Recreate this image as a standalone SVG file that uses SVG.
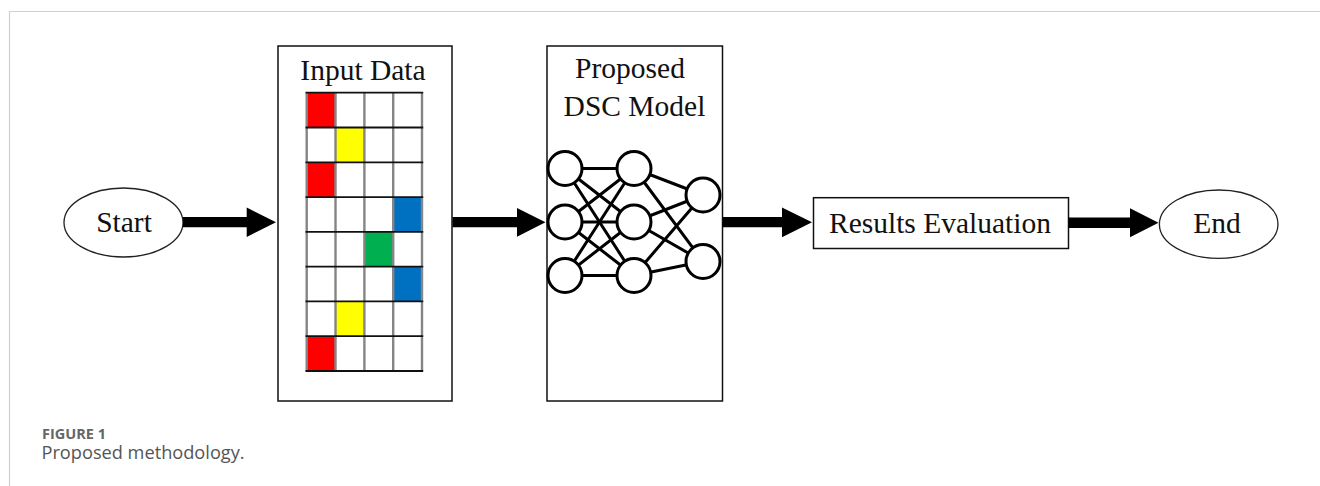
<svg xmlns="http://www.w3.org/2000/svg" width="1320" height="486" viewBox="0 0 1320 486">
<style>
.lbl{font-family:"Liberation Serif","Times New Roman",serif;font-size:29.5px;fill:#111;text-anchor:middle}
.box{fill:#fff;stroke:#111;stroke-width:1.5}
.ell{fill:#fff;stroke:#222;stroke-width:1.3}
.arrow{fill:#000}
.vg{stroke:#858585;stroke-width:2.4}
.hg{stroke:#111;stroke-width:1.8}
.nn{stroke:#000;stroke-width:3;fill:none}
.neuron{fill:#fff;stroke:#000;stroke-width:3}
.cap{font-family:"Open Sans","Noto Sans",sans-serif}
</style>
<rect x="0" y="0" width="1320" height="486" fill="#fff"/>
<path d="M9.5 486 V11.5 H1320" fill="none" stroke="#d0d0d0" stroke-width="1.2"/>

<g id="start">
<ellipse class="ell" cx="123.5" cy="222.5" rx="59.5" ry="34.5"/>
<text class="lbl" x="124" y="232">Start</text>
</g>

<g id="input-data">
<rect class="box" x="278" y="46" width="174" height="355"/>
<text class="lbl" x="363" y="80">Input Data</text>
<g>
<rect x="306.7" y="92.7" width="28.8" height="34.8" fill="#ff0000"/>
<rect x="335.5" y="127.5" width="28.9" height="34.8" fill="#ffff00"/>
<rect x="306.7" y="162.3" width="28.8" height="34.8" fill="#ff0000"/>
<rect x="393.2" y="197.1" width="28.8" height="34.8" fill="#0070c0"/>
<rect x="364.4" y="231.9" width="28.8" height="34.8" fill="#00b050"/>
<rect x="393.2" y="266.7" width="28.8" height="34.7" fill="#0070c0"/>
<rect x="335.5" y="301.4" width="28.9" height="34.8" fill="#ffff00"/>
<rect x="306.7" y="336.2" width="28.8" height="34.8" fill="#ff0000"/>
</g>
<g class="vg">
<line x1="306.7" y1="92.7" x2="306.7" y2="371"/>
<line x1="335.5" y1="92.7" x2="335.5" y2="371"/>
<line x1="364.4" y1="92.7" x2="364.4" y2="371"/>
<line x1="393.2" y1="92.7" x2="393.2" y2="371"/>
<line x1="422" y1="92.7" x2="422" y2="371"/>
</g>
<g class="hg">
<line x1="305.5" y1="92.7" x2="423.2" y2="92.7"/>
<line x1="305.5" y1="127.5" x2="423.2" y2="127.5"/>
<line x1="305.5" y1="162.3" x2="423.2" y2="162.3"/>
<line x1="305.5" y1="197.1" x2="423.2" y2="197.1"/>
<line x1="305.5" y1="231.9" x2="423.2" y2="231.9"/>
<line x1="305.5" y1="266.7" x2="423.2" y2="266.7"/>
<line x1="305.5" y1="301.4" x2="423.2" y2="301.4"/>
<line x1="305.5" y1="336.2" x2="423.2" y2="336.2"/>
<line x1="305.5" y1="371" x2="423.2" y2="371"/>
</g>
</g>

<g id="dsc-model">
<rect class="box" x="547" y="46" width="175.5" height="355"/>
<text class="lbl" x="630" y="78">Proposed</text>
<text class="lbl" x="634.5" y="116">DSC Model</text>
<g class="nn">
<path d="M565 168.5L634 168.5M565 168.5L634 222M565 168.5L634 275.5"/>
<path d="M565 222L634 168.5M565 222L634 222M565 222L634 275.5"/>
<path d="M565 275.5L634 168.5M565 275.5L634 222M565 275.5L634 275.5"/>
<path d="M634 168.5L703 195M634 168.5L703 261.5M634 222L703 195M634 222L703 261.5M634 275.5L703 195M634 275.5L703 261.5"/>
</g>
<circle class="neuron" cx="565" cy="168.5" r="17"/>
<circle class="neuron" cx="565" cy="222" r="17"/>
<circle class="neuron" cx="565" cy="275.5" r="17"/>
<circle class="neuron" cx="634" cy="168.5" r="17"/>
<circle class="neuron" cx="634" cy="222" r="17"/>
<circle class="neuron" cx="634" cy="275.5" r="17"/>
<circle class="neuron" cx="703" cy="195" r="17"/>
<circle class="neuron" cx="703" cy="261.5" r="17"/>
</g>

<g id="results-evaluation">
<rect class="box" x="813.5" y="197.7" width="255" height="50.8"/>
<text class="lbl" x="940" y="232.5">Results Evaluation</text>
</g>

<g id="end">
<ellipse class="ell" cx="1218.7" cy="224.2" rx="59.3" ry="34.2"/>
<text class="lbl" x="1217" y="233">End</text>
</g>

<g id="connectors">
<path class="arrow" d="M183 217H246.7V207.5L276 222.2L246.7 237V227.3H183Z"/>
<path class="arrow" d="M452.5 217H517V208L545.5 222.2L517 236.7V227.3H452.5Z"/>
<path class="arrow" d="M722.5 217H782V207.5L812 222.3L782 237.3V227.3H722.5Z"/>
<path class="arrow" d="M1068.5 217.5H1130V208.3L1158.5 222.8L1130 237.3V228H1068.5Z"/>
</g>

<g id="caption">
<text class="cap" x="42" y="439" font-size="14.5" font-weight="bold" fill="#666">FIGURE 1</text>
<text class="cap" x="41.5" y="459" font-size="18.2" fill="#555">Proposed methodology.</text>
</g>
</svg>
